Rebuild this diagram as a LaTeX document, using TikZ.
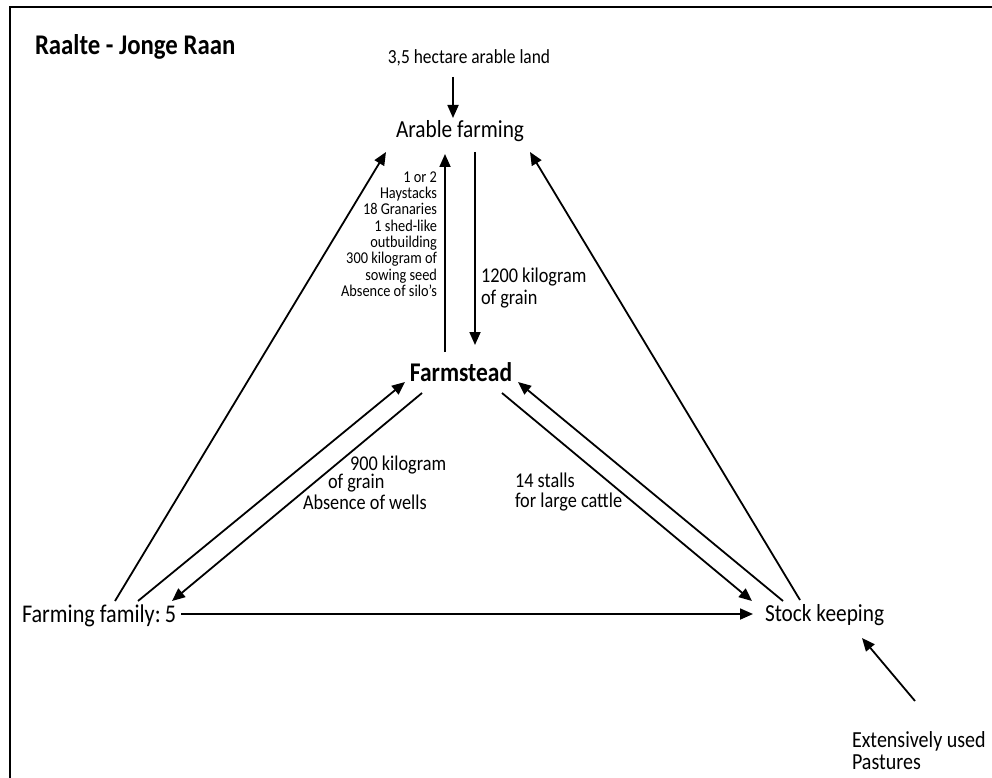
\documentclass[tikz,border=0pt]{standalone}
\usepackage{fontspec}
\setmainfont{Carlito}[FakeStretch=0.87]
\usetikzlibrary{arrows.meta}
\begin{document}
\begin{tikzpicture}[x=1pt,y=-1pt,
  lbl/.style={inner sep=0pt,outer sep=0pt},
  arr/.style={line width=1.8pt,-{Triangle[length=13pt,width=11pt]}},
  frame/.style={line width=2.2pt}]
\useasboundingbox (0,0) rectangle (992,778);
\draw[frame] (10,800) -- (10,7) -- (1010,7);

\node[lbl,anchor=west,font=\fontsize{28.5}{32}\selectfont\bfseries] (title) at (35,47) {Raalte - Jonge Raan};
\node[lbl,font=\fontsize{20}{24}\selectfont] (land) at (469,58) {3,5 hectare arable land};
\node[lbl,font=\fontsize{24.5}{28}\selectfont] (af) at (460,131) {Arable farming};
\node[lbl,font=\fontsize{27}{31}\selectfont\bfseries] (fs) at (461,372) {Farmstead};
\node[lbl,anchor=west,font=\fontsize{25.5}{29}\selectfont] (ff) at (22,616) {Farming family:\,5};
\node[lbl,anchor=west,font=\fontsize{24.5}{28}\selectfont] (sk) at (765,615) {Stock keeping};

\node[lbl,anchor=east,align=right,font=\fontsize{16.5}{16.3}\selectfont] (list) at (437,234)
  {1 or 2\\Haystacks\\18 Granaries\\1 shed-like\\outbuilding\\300 kilogram of\\sowing seed\\Absence of silo's};
\node[lbl,anchor=west,align=left,font=\fontsize{21}{22}\selectfont] (g1200) at (481,288) {1200 kilogram\\of grain};
\node[lbl,anchor=west,font=\fontsize{21}{22}\selectfont] (g900a) at (350,465) {900 kilogram};
\node[lbl,anchor=west,font=\fontsize{21}{22}\selectfont] (g900b) at (328,483) {of grain};
\node[lbl,anchor=west,font=\fontsize{21}{22}\selectfont] (g900c) at (303,502) {Absence of wells};
\node[lbl,anchor=west,align=left,font=\fontsize{21}{20}\selectfont] (stalls) at (515,492) {14 stalls\\for large cattle};
\node[lbl,anchor=west,align=left,font=\fontsize{23}{22}\selectfont] (past) at (852,751) {Extensively used\\Pastures};

% connectors
\draw[arr] ([shift={(-16,19)}]land.center) -- ([shift={(-7,-13)}]af.center);
\draw[arr] ([shift={(93,-15)}]ff.west) -- ([shift={(-74,21)}]af.center);
\draw[arr] ([shift={(116,-15)}]ff.west) -- ([shift={(-56,10)}]fs.center);
\draw[arr] ([shift={(-39,21)}]fs.center) -- ([shift={(150,-15)}]ff.west);
\draw[arr] ([shift={(15,21)}]af.center) -- ([shift={(14,-27)}]fs.center);
\draw[arr] ([shift={(-16,-20)}]fs.center) -- ([shift={(-15,23)}]af.center);
\draw[arr] ([shift={(41,21)}]fs.center) -- ([shift={(-13,-14)}]sk.west);
\draw[arr] ([shift={(18,-14)}]sk.west) -- ([shift={(57,10)}]fs.center);
\draw[arr] ([shift={(35,-15)}]sk.west) -- ([shift={(70,21)}]af.center);
\draw[arr] ([shift={(63,-50)}]past.west) -- ([shift={(97,23)}]sk.west);
\draw[arr] ([shift={(5,-2)}]ff.east) -- ([shift={(-12,-1)}]sk.west);
\end{tikzpicture}
\end{document}
